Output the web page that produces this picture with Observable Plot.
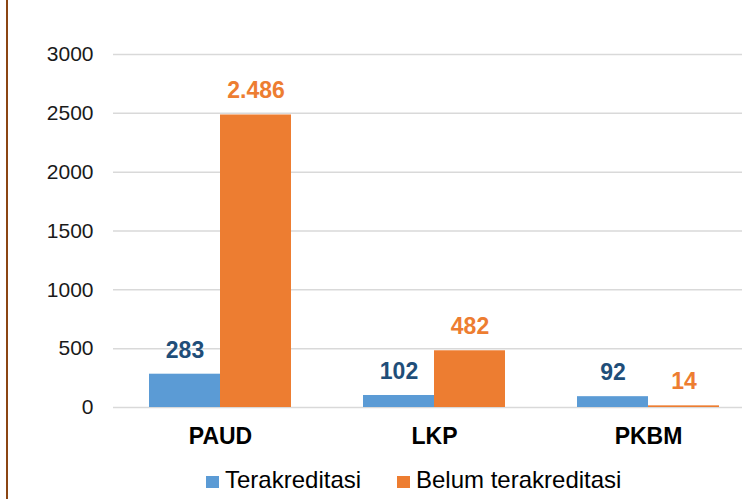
<!DOCTYPE html>
<html><head><meta charset="utf-8">
<script src="https://cdn.jsdelivr.net/npm/d3@7"></script>
<script src="https://cdn.jsdelivr.net/npm/@observablehq/plot@0.6"></script>
<style>
html,body{margin:0;padding:0;background:#fff;overflow:hidden;}
#wrap{position:relative;width:742px;height:499px;font-family:"Liberation Sans",Arial,sans-serif;overflow:hidden;}
#chart{position:absolute;left:0;top:0;}
#border{position:absolute;left:6px;top:0;width:2px;height:499px;background:#8B4513;}
#legend{position:absolute;top:466px;left:0;width:742px;height:28px;font-size:24px;color:#000;}
.item{position:absolute;top:0;display:flex;align-items:center;height:28px;white-space:nowrap;}
.sw{width:13px;height:12px;margin-right:6px;margin-top:4px;}
</style></head>
<body>
<div id="wrap">
  <div id="chart"></div>
  <div id="border"></div>
  <div id="legend"></div>
</div>
<script>
const categories = ["PAUD", "LKP", "PKBM"];
const series = ["Terakreditasi", "Belum terakreditasi"];
const terakreditasi = [283, 102, 92];
const belumTerakreditasi = [2486, 482, 14];
const yTicks = [0, 500, 1000, 1500, 2000, 2500, 3000];
const seriesColors = ["#5B9BD5", "#ED7D31"];
const labelColors = ["#1F4E79", "#ED7D31"];

const rows = [];
categories.forEach((c, i) => {
  rows.push({category: c, series: series[0], value: terakreditasi[i]});
  rows.push({category: c, series: series[1], value: belumTerakreditasi[i]});
});

const fmt = d3.formatLocale({decimal: ",", thousands: ".", grouping: [3], currency: ["Rp", ""]}).format(",d");

const chart = Plot.plot({
  width: 742,
  height: 455,
  marginLeft: 112,
  marginRight: 0,
  marginTop: 54,
  marginBottom: 48,
  style: {fontFamily: "'Liberation Sans', Arial, sans-serif", background: "transparent", overflow: "hidden"},
  fx: {domain: categories, range: [112, 755.5], paddingInner: 0, paddingOuter: 0, label: null},
  x: {domain: series, paddingInner: 0, paddingOuter: 0.5, axis: null},
  y: {domain: [0, 3000], axis: null},
  color: {domain: series, range: seriesColors},
  marks: [
    Plot.gridY(yTicks, {stroke: "#D9D9D9", strokeOpacity: 1, strokeWidth: 1.5}),
    Plot.axisY(yTicks, {tickSize: 0, tickPadding: 20, fontSize: 21, tickFormat: d => String(d), label: null, color: "#1a1a1a"}),
    Plot.barY(rows, {fx: "category", x: "series", y: "value", fill: "series"}),
    Plot.text(rows.filter(d => d.series === series[0]), {fx: "category", x: "series", y: "value", text: d => fmt(d.value), fill: labelColors[0], dy: -24, fontSize: 23, fontWeight: "bold"}),
    Plot.text(rows.filter(d => d.series === series[1]), {fx: "category", x: "series", y: "value", text: d => fmt(d.value), fill: labelColors[1], dy: -24, fontSize: 23, fontWeight: "bold"}),
    Plot.axisFx({anchor: "bottom", tickSize: 0, tickPadding: 20, fontSize: 23, fontWeight: "bold", label: null, color: "#000"})
  ]
});
document.getElementById("chart").appendChild(chart);

const legend = document.getElementById("legend");
const legendLefts = [206, 397];
series.forEach((s, i) => {
  const item = document.createElement("div");
  item.className = "item";
  item.style.left = legendLefts[i] + "px";
  const sw = document.createElement("span");
  sw.className = "sw";
  sw.style.background = seriesColors[i];
  const t = document.createElement("span");
  t.textContent = s;
  item.appendChild(sw);
  item.appendChild(t);
  legend.appendChild(item);
});
</script>
</body></html>
